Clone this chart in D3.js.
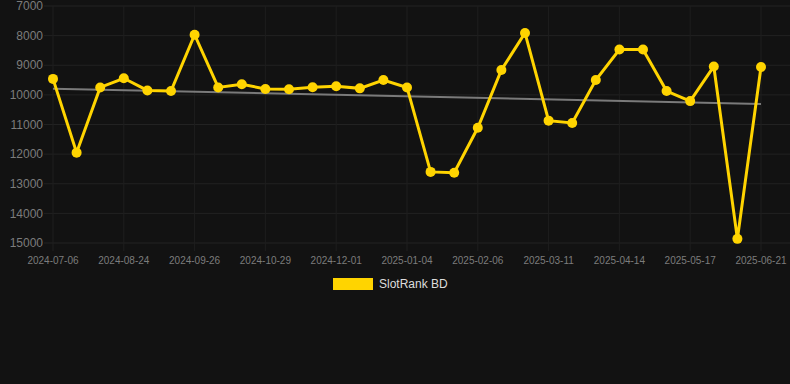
<!DOCTYPE html>
<html>
<head>
<meta charset="utf-8">
<script src="https://cdn.jsdelivr.net/npm/d3@7"></script>
<style>
  body { margin: 0; background: #121212; }
  svg { display: block; font-family: "Liberation Sans", Arial, sans-serif; }
</style>
</head>
<body>
<svg width="790" height="384"></svg>
<script>
var dates = [
    "2024-07-06", "2024-07-22", "2024-08-08", "2024-08-24", "2024-09-04", "2024-09-15",
    "2024-09-26", "2024-10-07", "2024-10-18", "2024-10-29", "2024-11-09", "2024-11-20",
    "2024-12-01", "2024-12-12", "2024-12-23", "2025-01-04", "2025-01-15", "2025-01-26",
    "2025-02-06", "2025-02-17", "2025-02-28", "2025-03-11", "2025-03-22", "2025-04-02",
    "2025-04-14", "2025-04-25", "2025-05-06", "2025-05-17", "2025-05-29", "2025-06-10",
    "2025-06-21"
];
var ranks = [
    9460, 11950, 9750, 9440, 9850, 9870,
    7970, 9750, 9640, 9800, 9810, 9740,
    9710, 9780, 9500, 9750, 12600, 12630,
    11110, 9160, 7910, 10870, 10950, 9500,
    8470, 8470, 9870, 10210, 9040, 14860,
    9060
];
var trend = [9790, 10310];
var yTicks = [7000, 8000, 9000, 10000, 11000, 12000, 13000, 14000, 15000];
var shownDates = dates.filter((d, i) => i % 3 == 0);

var lineColor = "#ffd400";
var svg = d3.select("svg");

var x = d3.scalePoint().domain(dates).range([53, 761]);
var y = d3.scaleLinear().domain([7000, 15000]).range([6, 243]);

// horizontal grid + y labels
svg.append("g")
    .selectAll("line")
    .data(yTicks)
    .enter()
    .append("line")
    .attr("x1", 44).attr("x2", 790)
    .attr("y1", d => y(d)).attr("y2", d => y(d))
    .attr("stroke", "#222")
    .attr("stroke-width", 1);

svg.append("g")
    .selectAll("text")
    .data(yTicks)
    .enter()
    .append("text")
    .attr("x", 43)
    .attr("y", d => y(d))
    .attr("dy", "0.35em")
    .attr("text-anchor", "end")
    .attr("fill", "#7c7c7c")
    .attr("font-size", 12)
    .text(d => d);

// vertical grid + x labels
svg.append("g")
    .selectAll("line")
    .data(shownDates)
    .enter()
    .append("line")
    .attr("x1", d => x(d)).attr("x2", d => x(d))
    .attr("y1", 6).attr("y2", 251)
    .attr("stroke", "#1e1e1e")
    .attr("stroke-width", 1);

svg.append("g")
    .selectAll("text")
    .data(shownDates)
    .enter()
    .append("text")
    .attr("x", d => x(d))
    .attr("y", 260)
    .attr("dy", "0.35em")
    .attr("text-anchor", "middle")
    .attr("fill", "#7c7c7c")
    .attr("font-size", 10)
    .text(d => d);

// trend line
svg.append("line")
    .attr("x1", x(dates[0])).attr("y1", y(trend[0]))
    .attr("x2", x(dates[dates.length - 1])).attr("y2", y(trend[1]))
    .attr("stroke", "#7a7a7a")
    .attr("stroke-width", 2);

// main series
var line = d3.line()
    .x((d, i) => x(dates[i]))
    .y(d => y(d));

svg.append("path")
    .datum(ranks)
    .attr("d", line)
    .attr("fill", "none")
    .attr("stroke", lineColor)
    .attr("stroke-width", 3)
    .attr("stroke-linejoin", "miter");

svg.append("g")
    .selectAll("circle")
    .data(ranks)
    .enter()
    .append("circle")
    .attr("cx", (d, i) => x(dates[i]))
    .attr("cy", d => y(d))
    .attr("r", 5)
    .attr("fill", lineColor);

// legend
svg.append("rect")
    .attr("x", 333).attr("y", 278)
    .attr("width", 40).attr("height", 12)
    .attr("fill", lineColor);

svg.append("text")
    .attr("x", 379).attr("y", 284)
    .attr("dy", "0.35em")
    .attr("fill", "#dddddd")
    .attr("font-size", 12)
    .text("SlotRank BD");
</script>
</body>
</html>
